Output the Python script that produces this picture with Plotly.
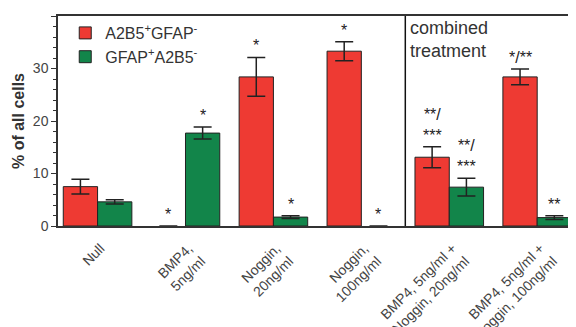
import plotly.graph_objects as go

categories = ["Null", "BMP4,<br>5ng/ml", "Noggin,<br>20ng/ml", "Noggin,<br>100ng/ml",
              "BMP4, 5ng/ml +<br>Noggin, 20ng/ml", "BMP4, 5ng/ml +<br>Noggin, 100ng/ml"]
red_vals = [7.5, 0.0, 28.4, 33.3, 13.1, 28.4]
red_err = [1.4, 0.0, 3.7, 1.8, 2.0, 1.5]
green_vals = [4.6, 17.7, 1.7, 0.0, 7.4, 1.6]
green_err = [0.4, 1.15, 0.25, 0.0, 1.7, 0.35]
red_marks = ["", "*", "*", "*", "**/<br>***", "*/**"]
green_marks = ["", "*", "*", "*", "**/<br>***", "**"]

RED = "#ee3a33"
GREEN = "#12854a"
FONT = "Liberation Sans, Arial"
xs = list(range(len(categories)))


def outline(vals):
    return [0 if v == 0 else 1 for v in vals]


def errs(vals, e):
    return [None if v == 0 else x for v, x in zip(vals, e)]


fig = go.Figure()
fig.add_trace(go.Bar(
    x=xs, y=red_vals, name="A2B5<sup>+</sup>GFAP<sup>-</sup>",
    marker=dict(color=RED, line=dict(color="#222", width=outline(red_vals))),
    error_y=dict(type="data", array=errs(red_vals, red_err), color="#222",
                 thickness=1.5, width=9, visible=True),
))
fig.add_trace(go.Bar(
    x=xs, y=green_vals, name="GFAP<sup>+</sup>A2B5<sup>-</sup>",
    marker=dict(color=GREEN, line=dict(color="#222", width=outline(green_vals))),
    error_y=dict(type="data", array=errs(green_vals, green_err), color="#222",
                 thickness=1.5, width=9, visible=True),
))

bargap = 0.22
half = (1 - bargap) / 4
annotations = []
for i in xs:
    for vals, es, marks, off in ((red_vals, red_err, red_marks, -half),
                                 (green_vals, green_err, green_marks, half)):
        if marks[i]:
            annotations.append(dict(
                x=i + off, y=vals[i] + es[i], xref="x", yref="y",
                text=marks[i], showarrow=False, yanchor="bottom", yshift=1,
                font=dict(family=FONT, size=16, color="#222"),
            ))
annotations.append(dict(
    x=3.5, y=1.0, xref="x", yref="paper", text="combined<br>treatment",
    showarrow=False, xanchor="left", yanchor="top", align="left", xshift=3, yshift=0,
    font=dict(family=FONT, size=18, color="#333"),
))

fig.add_shape(type="line", x0=3.5, x1=3.5, y0=0, y1=40, xref="x", yref="y",
              line=dict(color="#111", width=1.5))

fig.update_layout(
    width=568, height=319,
    margin=dict(l=50, r=1, t=8, b=101),
    paper_bgcolor="white", plot_bgcolor="white",
    barmode="group", bargap=bargap, bargroupgap=0,
    font=dict(family=FONT, color="#333"),
    showlegend=True,
    legend=dict(x=0.014, y=1.0, xanchor="left", yanchor="top",
                bgcolor="rgba(0,0,0,0)", font=dict(size=16, color="#333"),
                tracegroupgap=0),
    annotations=annotations,
)
fig.update_xaxes(
    range=[-0.45, 5.43], tickmode="array", tickvals=xs, ticktext=categories,
    tickangle=-45, tickfont=dict(size=14, color="#444"), automargin=False,
    ticklabelstandoff=7, ticklabelshift=3,
    showline=True, linecolor="#333", linewidth=1.5, mirror=True,
    ticks="", showgrid=False, zeroline=False,
)
fig.update_yaxes(
    range=[0, 40], tickvals=[0, 10, 20, 30, 40], automargin=False,
    tickfont=dict(size=14, color="#444"),
    title=dict(text="<b>% of all cells</b>", font=dict(size=16, color="#333"), standoff=4),
    showline=True, linecolor="#333", linewidth=1.5, mirror="ticks",
    ticks="outside", ticklen=5, tickwidth=1.2, tickcolor="#333",
    minor=dict(ticks="outside", dtick=2, ticklen=3, tickcolor="#333", tickwidth=1),
    showgrid=False, zeroline=False,
)

fig.write_html("out.html")
